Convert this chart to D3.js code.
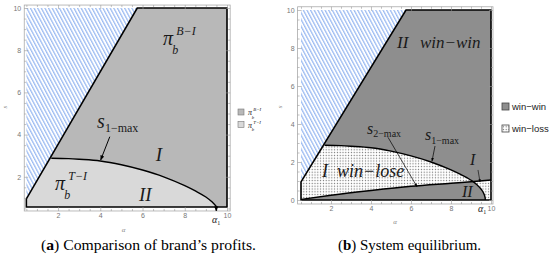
<!DOCTYPE html>
<html>
<head>
<meta charset="utf-8">
<script src="https://cdn.jsdelivr.net/npm/d3@7"></script>
<style>
	body { margin: 0; background: #fff; }
	svg { display: block; }
	.tick text { font-family: "Liberation Sans", Arial, sans-serif; font-size: 7px; fill: #777; }
	.tick line { stroke: #999; stroke-width: 0.6; }
	.lbl { font-family: "Liberation Serif", serif; font-style: italic; fill: #1a1a1a; }
	.up { font-family: "Liberation Serif", serif; fill: #1a1a1a; }
	.cap { font-family: "Liberation Serif", serif; font-size: 14.5px; fill: #000; }
	.leg { font-family: "Liberation Sans", Arial, sans-serif; font-size: 9.5px; fill: #222; }
	.axname { font-family: "Liberation Serif", serif; font-style: italic; font-size: 7px; fill: #888; }
</style>
</head>
<body>
<svg id="chart" width="550" height="258"></svg>
<script>
// values: alpha on x, s on y
const leftEdge = [[0.5, 0.95], [5.75, 10]];
const s1Max = [[1.68, 2.88], [2.5, 2.86], [3, 2.83], [4, 2.75], [5, 2.57], [6, 2.32], [7, 2.0],
	[8, 1.58], [8.5, 1.33], [9, 1.04], [9.3, 0.8], [9.5, 0.58], [9.62, 0.38], [9.7, 0.15], [9.72, 0]];
const s2Max = [[0.5, 0.03], [2, 0.25], [4, 0.5], [6, 0.72], [8, 0.88], [9, 0.96], [10, 1.05]];
const xTicks = [2, 4, 6, 8, 10];
const yTicksA = [2, 4, 6, 8, 10];
const yTicksB = [0, 2, 4, 6, 8, 10];
const floorA = 0.57;      // lower edge of the region in panel (a)
const alpha1A = 9.49;
const alpha1B = 9.72;
const legendA = ["B−I", "T−I"];
const legendB = ["win−win", "win−loss"];

const svg = d3.select("#chart");
const defs = svg.append("defs");

// blue hatching
defs.append("pattern")
	.attr("id", "hatch")
	.attr("patternUnits", "userSpaceOnUse")
	.attr("width", 3.2).attr("height", 8)
	.attr("patternTransform", "rotate(-28)")
	.append("rect")
	.attr("width", 1.3).attr("height", 8)
	.attr("fill", "#9dbcf2");

// dotted fill for win-loss
const dots = defs.append("pattern")
	.attr("id", "dots")
	.attr("patternUnits", "userSpaceOnUse")
	.attr("width", 2.8).attr("height", 2.8);
dots.append("rect").attr("width", 2.8).attr("height", 2.8).attr("fill", "#fff");
dots.append("circle").attr("cx", 1.4).attr("cy", 1.4).attr("r", 0.65).attr("fill", "#6e6e6e");

defs.append("marker")
	.attr("id", "arrow")
	.attr("viewBox", "0 0 10 10")
	.attr("refX", 9).attr("refY", 5)
	.attr("markerWidth", 5).attr("markerHeight", 5)
	.attr("orient", "auto")
	.append("path")
	.attr("d", "M0,1L10,5L0,9Z")
	.attr("fill", "#000");

function drawFrame(g, x, y, xd, yd, yTicks) {
	const minor = d3.range(0.5, 10.01, 0.5);

	g.append("rect")
		.attr("x", x(xd[0])).attr("y", y(yd[1]))
		.attr("width", x(xd[1]) - x(xd[0]))
		.attr("height", y(yd[0]) - y(yd[1]))
		.attr("fill", "none")
		.attr("stroke", "#aaa")
		.attr("stroke-width", 0.8);

	const add = (axis, transform) => {
		g.append("g")
			.attr("transform", transform)
			.call(axis)
			.call(a => a.select(".domain").remove());
	};

	// major ticks
	add(d3.axisBottom(x).tickValues(xTicks).tickSize(-4).tickPadding(2.5), `translate(0,${y(yd[0])})`);
	add(d3.axisTop(x).tickValues(xTicks).tickSize(-4).tickFormat(""), `translate(0,${y(yd[1])})`);
	add(d3.axisLeft(y).tickValues(yTicks).tickSize(-4).tickPadding(3), `translate(${x(xd[0])},0)`);
	add(d3.axisRight(y).tickValues(yTicks).tickSize(-4).tickFormat(""), `translate(${x(xd[1])},0)`);

	// minor ticks
	const mx = minor.filter(v => v >= xd[0] && v <= xd[1] && !xTicks.includes(v));
	const my = minor.filter(v => v >= yd[0] && v <= yd[1] && !yTicks.includes(v));
	add(d3.axisBottom(x).tickValues(mx).tickSize(-2).tickFormat(""), `translate(0,${y(yd[0])})`);
	add(d3.axisTop(x).tickValues(mx).tickSize(-2).tickFormat(""), `translate(0,${y(yd[1])})`);
	add(d3.axisLeft(y).tickValues(my).tickSize(-2).tickFormat(""), `translate(${x(xd[0])},0)`);
	add(d3.axisRight(y).tickValues(my).tickSize(-2).tickFormat(""), `translate(${x(xd[1])},0)`);
}

function sLabel(g, px, py, size, sub, subSize) {
	const t = g.append("text").attr("class", "lbl").attr("x", px).attr("y", py)
		.style("font-size", size + "px").text("s");
	t.append("tspan").attr("class", "up").style("font-style", "normal")
		.style("font-size", subSize + "px").attr("dy", size * 0.22).text(sub);
}

function piLabel(g, px, py, size, sup) {
	g.append("text").attr("class", "lbl").attr("x", px).attr("y", py)
		.style("font-size", size + "px").text("π");
	g.append("text").attr("class", "lbl").attr("x", px + size * 0.46).attr("y", py + size * 0.45)
		.style("font-size", size * 0.6 + "px").text("b");
	g.append("text").attr("class", "lbl").attr("x", px + size * 0.66).attr("y", py - size * 0.5)
		.style("font-size", size * 0.6 + "px").text(sup);
}

function arrow(g, x, y, from, to, width) {
	g.append("line")
		.attr("x1", x(from[0])).attr("y1", y(from[1]))
		.attr("x2", x(to[0])).attr("y2", y(to[1]))
		.attr("stroke", "#000")
		.attr("stroke-width", width)
		.attr("marker-end", "url(#arrow)");
}

function alphaOne(g, px, py) {
	const t = g.append("text").attr("class", "lbl").attr("x", px).attr("y", py)
		.attr("text-anchor", "middle").style("font-size", "10px").text("α");
	t.append("tspan").attr("class", "up").style("font-style", "normal")
		.style("font-size", "6px").attr("dy", 2).text("1");
}

function caption(g, left, width, letter, rest) {
	const cap = g.append("text").attr("class", "cap").attr("x", left).attr("y", 250)
		.attr("textLength", width).attr("lengthAdjust", "spacingAndGlyphs");
	cap.append("tspan").text("(");
	cap.append("tspan").style("font-weight", "bold").text(letter);
	cap.append("tspan").text(rest);
}

// ---------------- panel (a) ----------------
{
	const x = d3.scaleLinear().domain([0, 10]).range([15.8, 227]);
	const y = d3.scaleLinear().domain([0, 10]).range([219, 8]);
	const g = svg.append("g");
	const line = d3.line().x(d => x(d[0])).y(d => y(d[1]));
	const curve = d3.line().x(d => x(d[0])).y(d => y(d[1])).curve(d3.curveMonotoneX);

	const region = [[leftEdge[0][0], floorA], leftEdge[0], leftEdge[1], [10, 10], [10, floorA]];
	const hatchArea = [leftEdge[0], leftEdge[1], [leftEdge[0][0], 10]];

	defs.append("clipPath").attr("id", "clipA").append("path").attr("d", line(region) + "Z");

	g.append("path").attr("d", line(hatchArea) + "Z").attr("fill", "url(#hatch)");
	g.append("path").attr("d", line(region) + "Z").attr("fill", "#b8b8b8");

	const under = `M${x(0.5)},${y(0)}L${x(leftEdge[0][0])},${y(leftEdge[0][1])}L` +
		curve(s1Max).slice(1) + `L${x(alpha1B)},${y(0)}Z`;
	g.append("path").attr("d", under).attr("fill", "#d9d9d9").attr("clip-path", "url(#clipA)");

	g.append("path").attr("d", curve(s1Max)).attr("fill", "none").attr("stroke", "#000")
		.attr("stroke-width", 1.4).attr("clip-path", "url(#clipA)");
	g.append("path").attr("d", line(region) + "Z").attr("fill", "none").attr("stroke", "#000")
		.attr("stroke-width", 1.6).attr("stroke-linejoin", "miter");

	drawFrame(g, x, y, [0.4, 10.15], [0.38, 10.14], yTicksA);

	// labels
	piLabel(g, x(6.97), y(8.25), 20, "B−I");
	piLabel(g, x(1.86), y(1.37), 20, "T−I");
	sLabel(g, x(3.85), y(4.31), 20, "1−max", 12);
	arrow(g, x, y, [4.45, 3.9], [4.02, 2.8], 1);
	g.append("text").attr("class", "lbl").attr("x", x(6.78)).attr("y", y(2.75))
		.attr("text-anchor", "middle").style("font-size", "19px").text("I");
	g.append("text").attr("class", "lbl").attr("x", x(5.83)).attr("y", y(0.85))
		.style("font-size", "19px").text("II");

	arrow(g, x, y, [alpha1A, floorA], [alpha1A, 0.38], 1);
	alphaOne(g, x(alpha1A), 223);

	g.append("text").attr("class", "axname").attr("x", x(5.1)).attr("y", 232)
		.attr("text-anchor", "middle").text("α");
	g.append("text").attr("class", "axname").attr("transform", `translate(7,${y(5.3)}) rotate(-90)`)
		.attr("text-anchor", "middle").text("s");

	// legend
	const lg = g.append("g").attr("transform", "translate(238,109)");
	legendA.forEach((k, i) => {
		lg.append("rect").attr("x", 0).attr("y", i * 12.5).attr("width", 6).attr("height", 6)
			.attr("fill", i === 0 ? "#b8b8b8" : "#d9d9d9").attr("stroke", "#777").attr("stroke-width", 0.6);
		piLabel(lg, 10, i * 12.5 + 6, 8, k);
	});

	caption(g, 41, 215, "a", ") Comparison of brand’s profits.");
}

// ---------------- panel (b) ----------------
{
	const x = d3.scaleLinear().domain([0, 10]).range([291, 491]);
	const y = d3.scaleLinear().domain([0, 10]).range([200, 10]);
	const g = svg.append("g");
	const line = d3.line().x(d => x(d[0])).y(d => y(d[1]));
	const curve = d3.line().x(d => x(d[0])).y(d => y(d[1])).curve(d3.curveMonotoneX);

	const region = [[leftEdge[0][0], 0], leftEdge[0], leftEdge[1], [10, 10], [10, 0]];
	const hatchArea = [leftEdge[0], leftEdge[1], [leftEdge[0][0], 10]];

	g.append("path").attr("d", line(hatchArea) + "Z").attr("fill", "url(#hatch)");
	g.append("path").attr("d", line(region) + "Z").attr("fill", "#8e8e8e");

	// win-loss: between s1 and s2 (even-odd of the two areas underneath)
	const underS1 = `M${x(0.5)},${y(0)}L${x(leftEdge[0][0])},${y(leftEdge[0][1])}L` +
		curve(s1Max).slice(1) + "Z";
	const underS2 = `M${x(0.5)},${y(0)}L` + curve(s2Max).slice(1) + `L${x(10)},${y(0)}Z`;
	g.append("path").attr("d", underS1 + underS2).attr("fill", "url(#dots)").attr("fill-rule", "evenodd");

	g.append("path").attr("d", curve(s1Max)).attr("fill", "none").attr("stroke", "#000").attr("stroke-width", 1.4);
	g.append("path").attr("d", curve(s2Max)).attr("fill", "none").attr("stroke", "#000").attr("stroke-width", 1.4);
	g.append("path").attr("d", line(region) + "Z").attr("fill", "none").attr("stroke", "#000")
		.attr("stroke-width", 1.6);

	drawFrame(g, x, y, [0.33, 10.1], [-0.21, 10.17], yTicksB);

	g.append("text").attr("class", "lbl").attr("x", x(5.3)).attr("y", y(8.0))
		.style("font-size", "17px").text("II");
	g.append("text").attr("class", "lbl").attr("x", x(6.45)).attr("y", y(8.0))
		.style("font-size", "17px").text("win−win");
	g.append("text").attr("class", "lbl").attr("x", x(1.55)).attr("y", y(1.2))
		.style("font-size", "18px").text("I  win−lose").attr("xml:space", "preserve");

	sLabel(g, x(3.8), y(3.5), 16, "2−max", 10);
	arrow(g, x, y, [4.85, 3.3], [6.3, 0.7], 0.7);
	sLabel(g, x(6.7), y(3.15), 16, "1−max", 10);
	arrow(g, x, y, [7.2, 2.84], [7.05, 2.05], 0.7);

	g.append("text").attr("class", "lbl").attr("x", x(8.95)).attr("y", y(1.85))
		.style("font-size", "16px").text("I");
	arrow(g, x, y, [9.35, 1.58], [9.45, 0.95], 0.6);
	g.append("text").attr("class", "lbl").attr("x", x(8.55)).attr("y", y(0.16))
		.style("font-size", "16px").text("II");

	alphaOne(g, x(9.55), 212);

	g.append("text").attr("class", "axname").attr("x", x(5.2)).attr("y", 224)
		.attr("text-anchor", "middle").text("α");
	g.append("text").attr("class", "axname").attr("transform", `translate(282,${y(4.9)}) rotate(-90)`)
		.attr("text-anchor", "middle").text("s");

	const lg = g.append("g").attr("transform", "translate(502,103)");
	legendB.forEach((k, i) => {
		lg.append("rect").attr("x", 0).attr("y", i * 22).attr("width", 7).attr("height", 7)
			.attr("fill", i === 0 ? "#8e8e8e" : "url(#dots)").attr("stroke", "#444").attr("stroke-width", 0.8);
		lg.append("text").attr("class", "leg").attr("x", 10).attr("y", i * 22 + 7).text(k);
	});

	caption(g, 338, 143, "b", ") System equilibrium.");
}
</script>
</body>
</html>
